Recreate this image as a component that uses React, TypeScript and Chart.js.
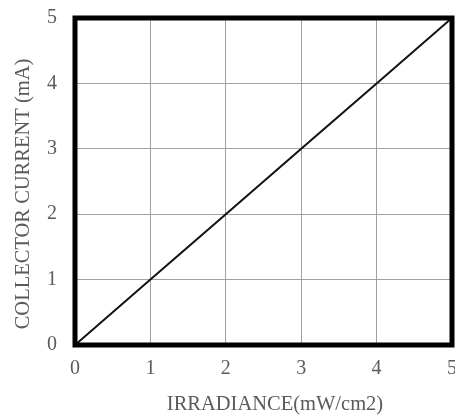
import React, { useEffect, useRef } from "react";
import { Chart, registerables } from "chart.js";

Chart.register(...registerables);

const irradiance = [0, 1, 2, 3, 4, 5];
const collectorCurrent = [0, 1, 2, 3, 4, 5];
const xTitle = "IRRADIANCE(mW/cm2)";
const yTitle = "COLLECTOR CURRENT (mA)";

const FONT = "'Liberation Serif', 'DejaVu Serif', serif";
const TEXT = "#5a5a5a";

const frame = {
  id: "frame",
  afterDatasetsDraw(chart: any) {
    const { ctx, chartArea: a } = chart;
    ctx.save();
    ctx.strokeStyle = "#000";
    ctx.lineWidth = 5;
    ctx.strokeRect(a.left, a.top, a.right - a.left, a.bottom - a.top);
    ctx.restore();
  },
};

const titles = {
  id: "titles",
  afterDraw(chart: any) {
    const { ctx } = chart;
    ctx.save();
    ctx.fillStyle = TEXT;
    ctx.font = `20.5px ${FONT}`;
    ctx.textAlign = "center";
    ctx.textBaseline = "middle";
    ctx.fillText(xTitle, 275, 405);
    ctx.translate(24, 194);
    ctx.rotate(-Math.PI / 2);
    ctx.fillText(yTitle, 0, 0);
    ctx.restore();
  },
};

export default function App() {
  const ref = useRef<HTMLCanvasElement>(null);
  useEffect(() => {
    const chart = new Chart(ref.current!, {
      type: "line",
      data: {
        datasets: [
          {
            data: irradiance.map((x, i) => ({ x, y: collectorCurrent[i] })),
            borderColor: "#111",
            borderWidth: 2,
            pointRadius: 0,
            tension: 0,
          },
        ],
      },
      options: {
        animation: false,
        responsive: false,
        devicePixelRatio: 1,
        layout: { padding: { top: 18, right: 3, left: 0, bottom: 0 } },
        plugins: { legend: { display: false }, tooltip: { enabled: false } },
        scales: {
          x: {
            type: "linear",
            min: 0,
            max: 5,
            afterFit(s: any) {
              s.height = 74;
              s.paddingLeft = 0;
              s.paddingRight = 0;
            },
            ticks: {
              stepSize: 1,
              color: TEXT,
              padding: 12,
              font: { family: FONT, size: 20 },
            },
            grid: { color: "#a0a0a0", lineWidth: 1, drawTicks: false },
            border: { display: false },
          },
          y: {
            type: "linear",
            min: 0,
            max: 5,
            afterFit(s: any) {
              s.width = 75;
              s.paddingTop = 0;
              s.paddingBottom = 0;
            },
            ticks: {
              stepSize: 1,
              color: TEXT,
              padding: 18,
              font: { family: FONT, size: 20 },
            },
            grid: { color: "#a0a0a0", lineWidth: 1, drawTicks: false },
            border: { display: false },
          },
        },
      },
      plugins: [frame, titles],
    });
    return () => chart.destroy();
  }, []);
  return (
    <div style={{ position: "fixed", left: 0, top: 0, width: 455, height: 419, background: "#fff" }}>
      <canvas ref={ref} width={455} height={419} style={{ display: "block" }} />
    </div>
  );
}
